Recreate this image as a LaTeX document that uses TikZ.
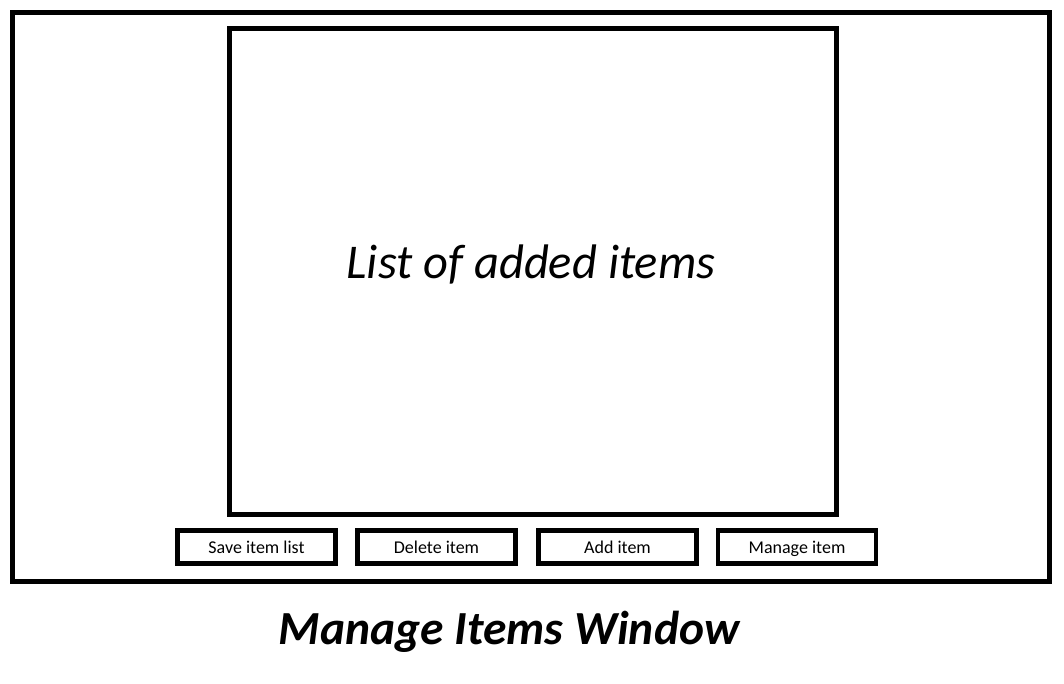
\documentclass[tikz,border=0pt]{standalone}
\usepackage{fontspec}
\setmainfont{Carlito}
\begin{document}
\begin{tikzpicture}[x=1pt,y=-1pt,
  frame/.style={draw=black,line width=5pt,fill=none},
  btn/.style={draw=black,line width=4.6pt,outer sep=0pt,minimum width=158pt,minimum height=33pt,inner sep=0pt,text height=13pt,text depth=1pt,font=\fontsize{18}{20}\selectfont},
  lbl/.style={inner sep=0pt,outer sep=0pt}]
\useasboundingbox[fill=white] (0,0) rectangle (1064,683);
\draw[frame] (12.5,12.5) rectangle (1049.5,581);
\node[frame,lbl,minimum width=607pt,minimum height=486pt,anchor=north west] (list) at (229.5,28.5) {};
\node[lbl,font=\fontsize{48.5}{56}\selectfont\itshape] (listtxt) at (531,264) {List of added items};
\node[btn] (save) at (256.5,547) {Save item list};
\node[btn] (del) at (436.5,547) {Delete item};
\node[btn] (add) at (617.5,547) {Add item};
\node[btn] (manage) at (797,547) {Manage item};
\node[lbl,font=\fontsize{47.5}{54}\selectfont\bfseries\itshape] (title) at (509,632) {Manage Items Window};
\end{tikzpicture}
\end{document}
